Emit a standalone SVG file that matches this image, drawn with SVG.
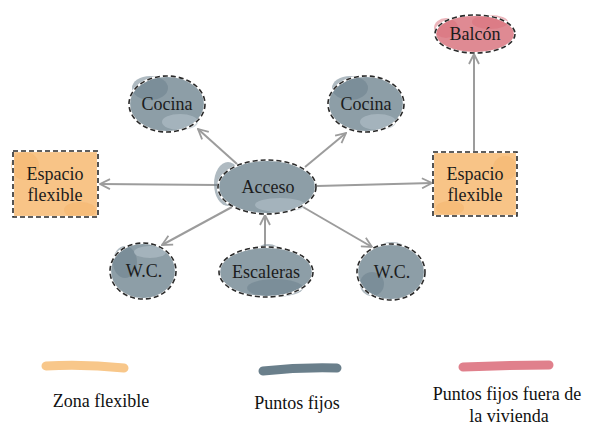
<svg xmlns="http://www.w3.org/2000/svg" width="597" height="427" viewBox="0 0 597 427" font-family="'Liberation Serif', 'DejaVu Serif', serif">
  <defs>
    <style>
      text { font-family: 'Liberation Serif', 'DejaVu Serif', serif; }
      .lbl { font-size: 18px; fill: #1c1c1c; text-anchor: middle; }
      .leg { font-size: 18px; fill: #111; text-anchor: middle; }
      .halo { fill: none; stroke: #ffffff; stroke-width: 2.2; }
      .dash { fill: none; stroke: #2a2a2a; stroke-width: 1.6; stroke-dasharray: 5 3; }
      .fix { fill: #8d9ea7; }
      .fixd { fill: #6e828e; opacity: 0.55; }
      .fixl { fill: #b4c2c9; opacity: 0.6; }
      .flex { fill: #f8c487; }
      .flexd { fill: #f4b36b; opacity: 0.5; }
      .ext { fill: #df8a93; }
      .extd { fill: #d96d7a; opacity: 0.5; }
      .conn { fill: none; stroke: #9c9c9c; stroke-width: 2; }
      .legline { fill: none; stroke-width: 9; stroke-linecap: round; }
    </style>
    <marker id="arrow" viewBox="0 0 12 12" refX="11" refY="6" markerWidth="12" markerHeight="12" markerUnits="userSpaceOnUse" orient="auto">
      <path d="M1,1 L11,6 L1,11" fill="none" stroke="#9c9c9c" stroke-width="1.8"/>
    </marker>
  </defs>

  <!-- connectors -->
  <g id="connectors">
    <line class="conn" x1="237" y1="164" x2="198" y2="129" marker-end="url(#arrow)"/>
    <line class="conn" x1="305" y1="167" x2="346" y2="133" marker-end="url(#arrow)"/>
    <line class="conn" x1="218" y1="185" x2="100" y2="184" marker-end="url(#arrow)"/>
    <line class="conn" x1="317" y1="186" x2="432" y2="183" marker-end="url(#arrow)"/>
    <line class="conn" x1="474" y1="152" x2="474" y2="54" marker-end="url(#arrow)"/>
    <line class="conn" x1="232" y1="207" x2="162" y2="245" marker-end="url(#arrow)"/>
    <line class="conn" x1="265" y1="247" x2="265" y2="215" marker-end="url(#arrow)"/>
    <line class="conn" x1="303" y1="207" x2="372" y2="247" marker-end="url(#arrow)"/>
  </g>

  <!-- fixed points -->
  <g id="cocina-izq">
    <ellipse class="fix" cx="167" cy="104" rx="38" ry="28"/>
    <ellipse class="fixd" cx="150" cy="88" rx="18" ry="12"/>
    <ellipse class="fixl" cx="180" cy="122" rx="18" ry="8"/>
    <ellipse class="halo" cx="167" cy="104" rx="38" ry="28"/>
    <ellipse class="dash" cx="167" cy="104" rx="38" ry="28"/>
    <text class="lbl" x="167" y="110" font-family="Liberation Serif, serif">Cocina</text>
  </g>

  <g id="cocina-der">
    <ellipse class="fix" cx="366" cy="104" rx="38" ry="28"/>
    <ellipse class="fixd" cx="350" cy="88" rx="18" ry="12"/>
    <ellipse class="fixl" cx="378" cy="122" rx="18" ry="8"/>
    <ellipse class="halo" cx="366" cy="104" rx="38" ry="28"/>
    <ellipse class="dash" cx="366" cy="104" rx="38" ry="28"/>
    <text class="lbl" x="366" y="110">Cocina</text>
  </g>

  <g id="acceso">
    <ellipse class="fixd" cx="228" cy="184" rx="14" ry="22"/>
    <ellipse class="fix" cx="267" cy="187" rx="49" ry="27"/>
    <ellipse class="fixl" cx="280" cy="205" rx="25" ry="7"/>
    <ellipse class="halo" cx="267" cy="187" rx="49" ry="27"/>
    <ellipse class="dash" cx="267" cy="187" rx="49" ry="27"/>
    <text class="lbl" x="268" y="193">Acceso</text>
  </g>

  <g id="wc-izq">
    <ellipse class="fix" cx="143" cy="271" rx="33" ry="28"/>
    <ellipse class="fixd" cx="125" cy="262" rx="12" ry="16"/>
    <ellipse class="fixl" cx="150" cy="252" rx="16" ry="6"/>
    <ellipse class="halo" cx="143" cy="271" rx="33" ry="28"/>
    <ellipse class="dash" cx="143" cy="271" rx="33" ry="28"/>
    <text class="lbl" x="144" y="277">W.C.</text>
  </g>

  <g id="escaleras">
    <ellipse class="fixd" cx="268" cy="252" rx="12" ry="8"/>
    <ellipse class="fix" cx="266" cy="272" rx="47" ry="25"/>
    <ellipse class="fixd" cx="275" cy="288" rx="28" ry="9"/>
    <ellipse class="halo" cx="266" cy="272" rx="47" ry="25"/>
    <ellipse class="dash" cx="266" cy="272" rx="47" ry="25"/>
    <text class="lbl" x="266" y="278">Escaleras</text>
  </g>

  <g id="wc-der">
    <ellipse class="fixd" cx="392" cy="250" rx="14" ry="8"/>
    <ellipse class="fix" cx="391" cy="272" rx="34" ry="28"/>
    <ellipse class="fixd" cx="372" cy="284" rx="12" ry="12"/>
    <ellipse class="halo" cx="391" cy="272" rx="34" ry="28"/>
    <ellipse class="dash" cx="391" cy="272" rx="34" ry="28"/>
    <text class="lbl" x="392" y="278">W.C.</text>
  </g>

  <!-- flexible spaces -->
  <g id="espacio-izq">
    <rect class="flex" x="13" y="151" width="85" height="66"/>
    <ellipse class="flexd" cx="25" cy="166" rx="14" ry="14"/>
    <ellipse class="flexd" cx="80" cy="210" rx="16" ry="8"/>
    <rect class="halo" x="13" y="151" width="85" height="66"/>
    <rect class="dash" x="13" y="151" width="85" height="66"/>
    <text class="lbl" x="55" y="180">Espacio</text>
    <text class="lbl" x="55" y="201">flexible</text>
  </g>

  <g id="espacio-der">
    <rect class="flex" x="433" y="152" width="84" height="64"/>
    <ellipse class="flexd" cx="505" cy="168" rx="12" ry="12"/>
    <ellipse class="flexd" cx="450" cy="208" rx="14" ry="7"/>
    <rect class="halo" x="433" y="152" width="84" height="64"/>
    <rect class="dash" x="433" y="152" width="84" height="64"/>
    <text class="lbl" x="475" y="180">Espacio</text>
    <text class="lbl" x="475" y="201">flexible</text>
  </g>

  <!-- outside the dwelling -->
  <g id="balcon">
    <ellipse class="ext" cx="475" cy="34" rx="40" ry="19"/>
    <ellipse class="extd" cx="446" cy="28" rx="12" ry="10"/>
    <ellipse class="extd" cx="490" cy="22" rx="18" ry="7"/>
    <ellipse class="halo" cx="475" cy="34" rx="40" ry="19"/>
    <ellipse class="dash" cx="475" cy="34" rx="40" ry="19"/>
    <text class="lbl" x="475" y="40">Balcón</text>
  </g>

  <!-- legend -->
  <g id="legend">
    <path class="legline" d="M46,366 Q85,364 124,368" stroke="#f8c78a"/>
    <path class="legline" d="M263,371 Q300,367 337,368" stroke="#6a7f8b"/>
    <path class="legline" d="M463,367 Q505,365 549,365" stroke="#e0808c"/>
    <text class="leg" x="101" y="407">Zona flexible</text>
    <text class="leg" x="297" y="409">Puntos fijos</text>
    <text class="leg" x="507" y="400">Puntos fijos fuera de</text>
    <text class="leg" x="509" y="422">la vivienda</text>
  </g>
</svg>
